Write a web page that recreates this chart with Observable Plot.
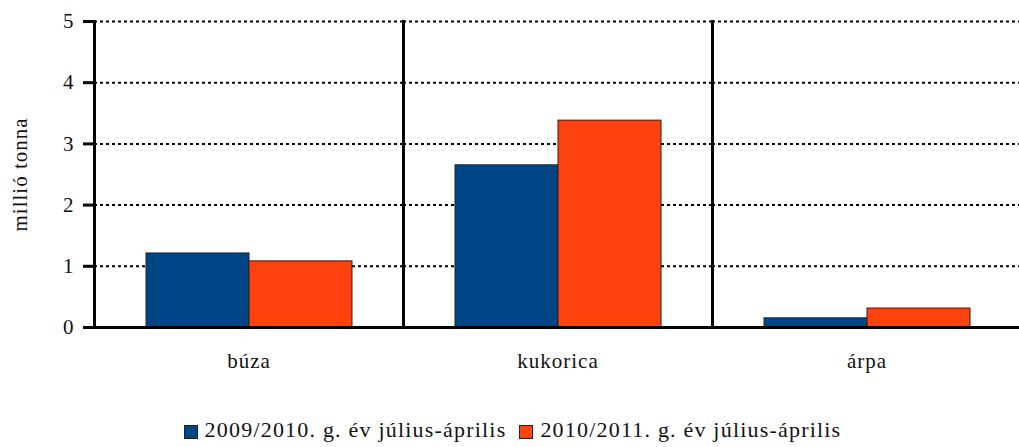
<!DOCTYPE html>
<html>
<head>
<meta charset="utf-8">
<script src="https://cdn.jsdelivr.net/npm/d3@7"></script>
<script src="https://cdn.jsdelivr.net/npm/@observablehq/plot@0.6"></script>
<style>
  body { margin: 0; background: #fff; font-family: "Liberation Serif", "Times New Roman", "DejaVu Serif", serif; }
  #chart svg, #chart svg text { font-family: "Liberation Serif", "Times New Roman", "DejaVu Serif", serif !important; }
  #chart svg text { fill: #111; letter-spacing: 1px; }
  #legend { display: flex; justify-content: center; align-items: center; font-size: 22px; letter-spacing: 1.2px; color: #111; margin-top: 27px; padding-left: 6px; line-height: 26px; }
  .item { display: flex; align-items: center; }
  .item + .item { margin-left: 13px; }
  .sw { width: 14px; height: 14px; border: 1px solid #222; box-sizing: border-box; margin-right: 7px; margin-top: 3px; }
</style>
</head>
<body>
<div id="chart"></div>
<div id="legend"></div>
<script>
const categories = ["búza", "kukorica", "árpa"];
const series = ["2009/2010. g. év július-április", "2010/2011. g. év július-április"];
const values2009 = [1.21, 2.65, 0.15];
const values2010 = [1.08, 3.38, 0.31];
const colors = ["#004586", "#ff420e"];
const yTicks = [0, 1, 2, 3, 4, 5];

const data = [];
categories.forEach((c, i) => {
  data.push({cat: c, series: series[0], value: values2009[i]});
  data.push({cat: c, series: series[1], value: values2010[i]});
});

const chart = Plot.plot({
  width: 1019,
  height: 390,
  marginTop: 21,
  marginBottom: 63,
  marginLeft: 93,
  marginRight: 0,
  style: {background: "#fff"},
  fx: {domain: categories, range: [93, 1021.5], padding: 0, label: null, axis: null},
  x: {domain: series, paddingInner: 0, paddingOuter: 0.5, axis: null},
  y: {domain: [0, 5], axis: null},
  color: {domain: series, range: colors},
  marks: [
    Plot.gridY(yTicks.filter(d => d > 0), {stroke: "#000", strokeOpacity: 1, strokeWidth: 2, strokeDasharray: "3,3"}),
    Plot.barY(data, {fx: "cat", x: "series", y: "value", fill: "series", stroke: "#222", strokeWidth: 1}),
    Plot.frame({anchor: "left", stroke: "#000", strokeWidth: 3}),
    Plot.ruleY([0], {stroke: "#000", strokeWidth: 3}),
    Plot.axisY({ticks: yTicks, tickSize: 11, tickPadding: 9, strokeWidth: 3, stroke: "#000", fontSize: 21, tickFormat: d => String(d),
      label: "millió tonna", labelAnchor: "center", labelArrow: "none", labelOffset: 82}),
    Plot.axisFx({anchor: "bottom", tickSize: 0, tickPadding: 26, fontSize: 21, label: null})
  ]
});
document.getElementById("chart").appendChild(chart);

const legend = document.getElementById("legend");
series.forEach((s, i) => {
  const item = document.createElement("div");
  item.className = "item";
  const sw = document.createElement("div");
  sw.className = "sw";
  sw.style.background = colors[i];
  const t = document.createElement("span");
  t.textContent = s;
  item.appendChild(sw);
  item.appendChild(t);
  legend.appendChild(item);
});
</script>
</body>
</html>
